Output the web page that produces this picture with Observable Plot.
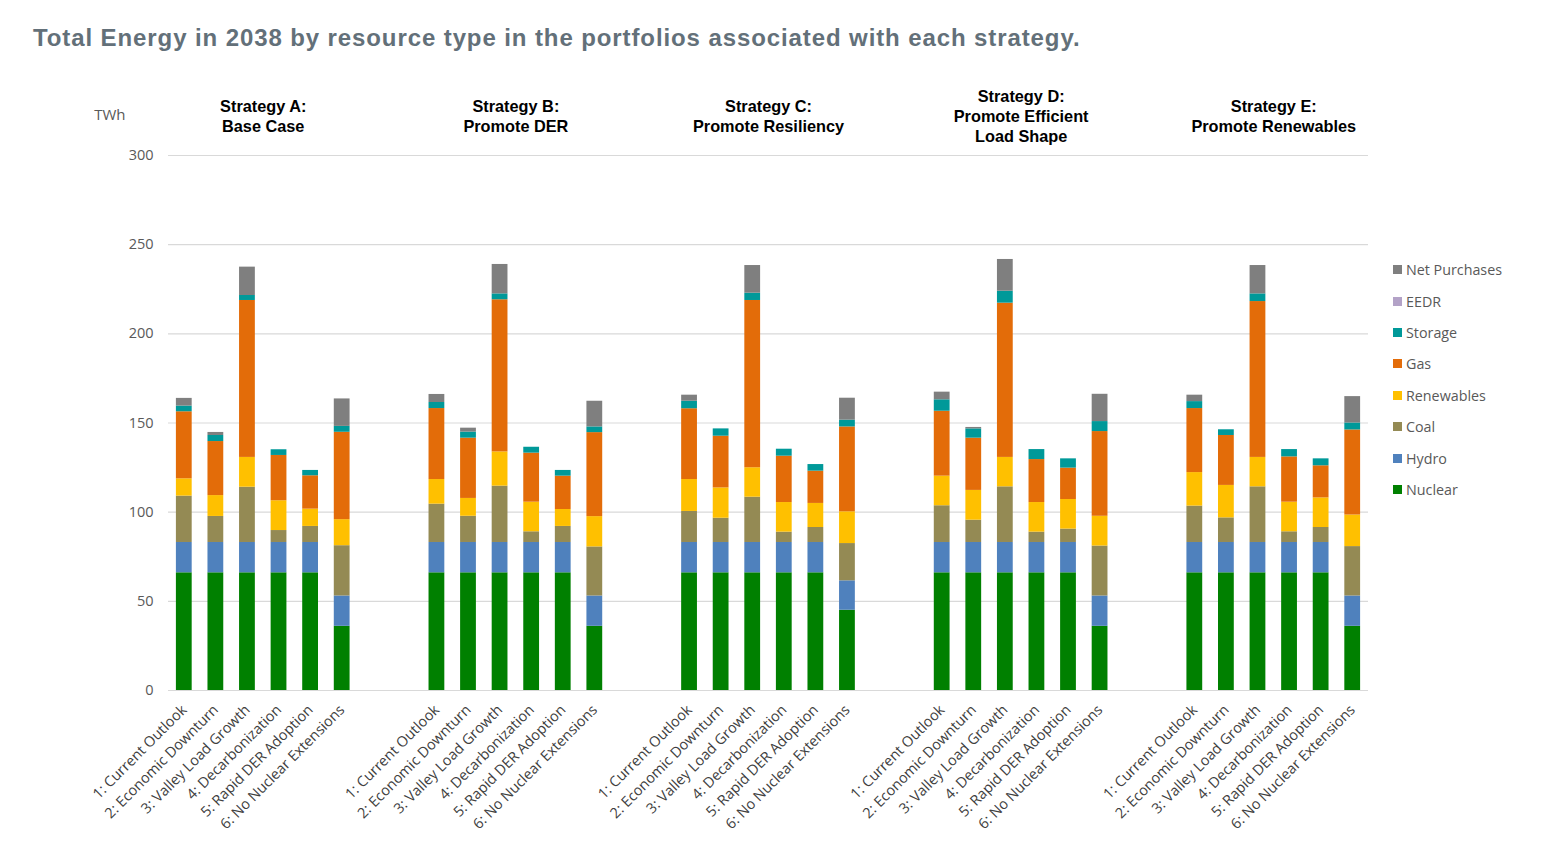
<!DOCTYPE html>
<html>
<head>
<meta charset="utf-8">
<script src="https://cdn.jsdelivr.net/npm/d3@7"></script>
<script src="https://cdn.jsdelivr.net/npm/@observablehq/plot@0.6"></script>
<style>
  body { margin: 0; background: #fff; width: 1551px; height: 850px; position: relative; overflow: hidden; font-family: "Open Sans", sans-serif; }
  #title { position: absolute; left: 33px; top: 23px; font: bold 24px "Liberation Sans", Arial, sans-serif; letter-spacing: 0.9px; color: #637079; white-space: nowrap; line-height: 30px; }
  #chart { position: absolute; left: 0; top: 60px; }
  #legend { position: absolute; left: 1393px; top: 254px; }
  .item { display: flex; align-items: center; height: 31.4px; font-size: 14.3px; color: #595959; white-space: nowrap; }
  .sw { width: 9px; height: 9px; margin-right: 4px; flex: none; }
</style>
</head>
<body>
<div id="title">Total Energy in 2038 by resource type in the portfolios associated with each strategy.</div>
<div id="chart"></div>
<div id="legend"></div>
<script>
const strategies = [
  "Strategy A:\nBase Case",
  "Strategy B:\nPromote DER",
  "Strategy C:\nPromote Resiliency",
  "Strategy D:\nPromote Efficient\nLoad Shape",
  "Strategy E:\nPromote Renewables"
];
const scenarios = [
  "1: Current Outlook",
  "2: Economic Downturn",
  "3: Valley Load Growth",
  "4: Decarbonization",
  "5: Rapid DER Adoption",
  "6: No Nuclear Extensions"
];
// legend order (top to bottom)
const resources = ["Net Purchases", "EEDR", "Storage", "Gas", "Renewables", "Coal", "Hydro", "Nuclear"];
const resourceColors = ["#7f7f7f", "#b3a2c7", "#009999", "#e36c09", "#ffc000", "#948a54", "#4f81bd", "#008000"];
// stacking order (bottom to top)
const stackOrder = ["Nuclear", "Hydro", "Coal", "Renewables", "Gas", "Storage", "EEDR", "Net Purchases"];
const yTicks = [0, 50, 100, 150, 200, 250, 300];

// TWh values, strategy A..E, scenarios 1..6 each
const nuclear = [
  66, 66, 66, 66, 66, 36,
  66, 66, 66, 66, 66, 36,
  66, 66, 66, 66, 66, 45,
  66, 66, 66, 66, 66, 36,
  66, 66, 66, 66, 66, 36
];
const hydro = [
  17, 17, 17, 17, 17, 17,
  17, 17, 17, 17, 17, 17,
  17, 17, 17, 17, 17, 16.5,
  17, 17, 17, 17, 17, 17,
  17, 17, 17, 17, 17, 17
];
const coal = [
  26, 14.6, 31, 6.7, 9, 28.2,
  21.5, 14.7, 31.6, 6, 9, 27.5,
  17.4, 13.6, 25.4, 5.8, 8.4, 20.9,
  20.6, 12.5, 31.2, 5.8, 7.5, 28,
  20.4, 13.8, 31.2, 6, 8.4, 27.7
];
const renewables = [
  9.7, 11.7, 16.7, 16.7, 9.7, 14.6,
  13.8, 10, 19.2, 16.6, 9.5, 17,
  17.9, 17, 16.5, 16.6, 13.5, 17.8,
  16.6, 16.7, 16.5, 16.6, 16.6, 16.7,
  18.8, 18.2, 16.5, 16.6, 16.6, 17.7
];
const gas = [
  37.6, 30.3, 88, 25.4, 18.7, 49,
  39.8, 33.8, 85.3, 27.5, 18.7, 47.1,
  39.7, 29, 93.8, 26, 18.1, 47.6,
  36.4, 29.3, 86.5, 24.1, 17.6, 47.5,
  35.9, 28, 87.4, 25.4, 18, 47.7
];
const storage = [
  3.2, 3.4, 2.8, 3.2, 3, 3.3,
  3.4, 3.4, 3.3, 3.3, 3.2, 3.2,
  4.2, 4.1, 4.1, 3.9, 3.7, 3.8,
  6.4, 5.2, 6.7, 5.6, 5.2, 5.6,
  3.9, 3.2, 4.3, 4.1, 3.9, 3.9
];
const eedr = [
  0, 0, 0, 0, 0, 0,
  0, 0, 0, 0, 0, 0,
  0, 0, 0, 0, 0, 0,
  0, 0, 0, 0, 0, 0,
  0, 0, 0, 0, 0, 0
];
const netPurchases = [
  4.3, 1.7, 15.9, 0, 0, 15.4,
  4.5, 2.2, 16.5, 0, 0, 14.4,
  3.4, 0, 15.5, 0, 0, 12.3,
  4.3, 0.8, 17.8, 0, 0, 15.3,
  3.6, 0, 15.9, 0, 0, 14.8
];

const seriesByName = {
  "Nuclear": nuclear, "Hydro": hydro, "Coal": coal, "Renewables": renewables,
  "Gas": gas, "Storage": storage, "EEDR": eedr, "Net Purchases": netPurchases
};

// build table: each strategy occupies its scenarios plus two empty slots
const slotsPerGroup = scenarios.length + 2;
const rows = [];
const ticks = [];
const tickLabel = new Map();
strategies.forEach((s, g) => {
  scenarios.forEach((sc, i) => {
    const k = g * scenarios.length + i;
    const pos = g * slotsPerGroup + i;
    ticks.push(pos);
    tickLabel.set(pos, sc);
    stackOrder.forEach(r => {
      rows.push({strategy: s, scenario: sc, resource: r, value: seriesByName[r][k], x1: pos - 0.25, x2: pos + 0.25});
    });
  });
});
const headers = strategies.map((s, g) => ({name: s, pos: g * slotsPerGroup + (scenarios.length - 1) / 2}));
const lastPos = (strategies.length - 1) * slotsPerGroup + scenarios.length - 1;

const plot = Plot.plot({
  width: 1380,
  height: 790,
  marginLeft: 168,
  marginRight: 12,
  marginTop: 95,
  marginBottom: 160,
  style: {fontFamily: "'Open Sans', sans-serif", background: "#fff"},
  x: {domain: [-0.5, lastPos + 0.5], axis: null},
  y: {domain: [0, 300], axis: null},
  color: {domain: resources, range: resourceColors},
  marks: [
    Plot.gridY({ticks: yTicks, stroke: "#d9d9d9", strokeOpacity: 1, strokeWidth: 1.2}),
    Plot.rectY(rows, {x1: "x1", x2: "x2", y: "value", fill: "resource", order: stackOrder}),
    Plot.axisY({ticks: yTicks, tickSize: 0, tickPadding: 15, fontSize: 14.5, color: "#595959", label: null}),
    Plot.axisX({ticks, tickFormat: p => tickLabel.get(p), tickRotate: -45, tickSize: 0, tickPadding: 17, fontSize: 14.5, color: "#404040", label: null}),
    Plot.text(headers, {x: "pos", text: "name", frameAnchor: "top", dy: -40, lineAnchor: "middle", lineHeight: 1.25, fontWeight: "bold", fontSize: 16.3, fill: "#000", fontFamily: "'Liberation Sans', Arial, sans-serif"}),
    Plot.text(["TWh"], {frameAnchor: "top-left", dx: -43, dy: -40, textAnchor: "end", lineAnchor: "middle", fontSize: 15, fill: "#595959"})
  ]
});
document.getElementById("chart").appendChild(plot);

const legend = document.getElementById("legend");
resources.forEach((r, i) => {
  const item = document.createElement("div");
  item.className = "item";
  const sw = document.createElement("span");
  sw.className = "sw";
  sw.style.background = resourceColors[i];
  item.appendChild(sw);
  item.appendChild(document.createTextNode(r));
  legend.appendChild(item);
});
</script>
</body>
</html>
